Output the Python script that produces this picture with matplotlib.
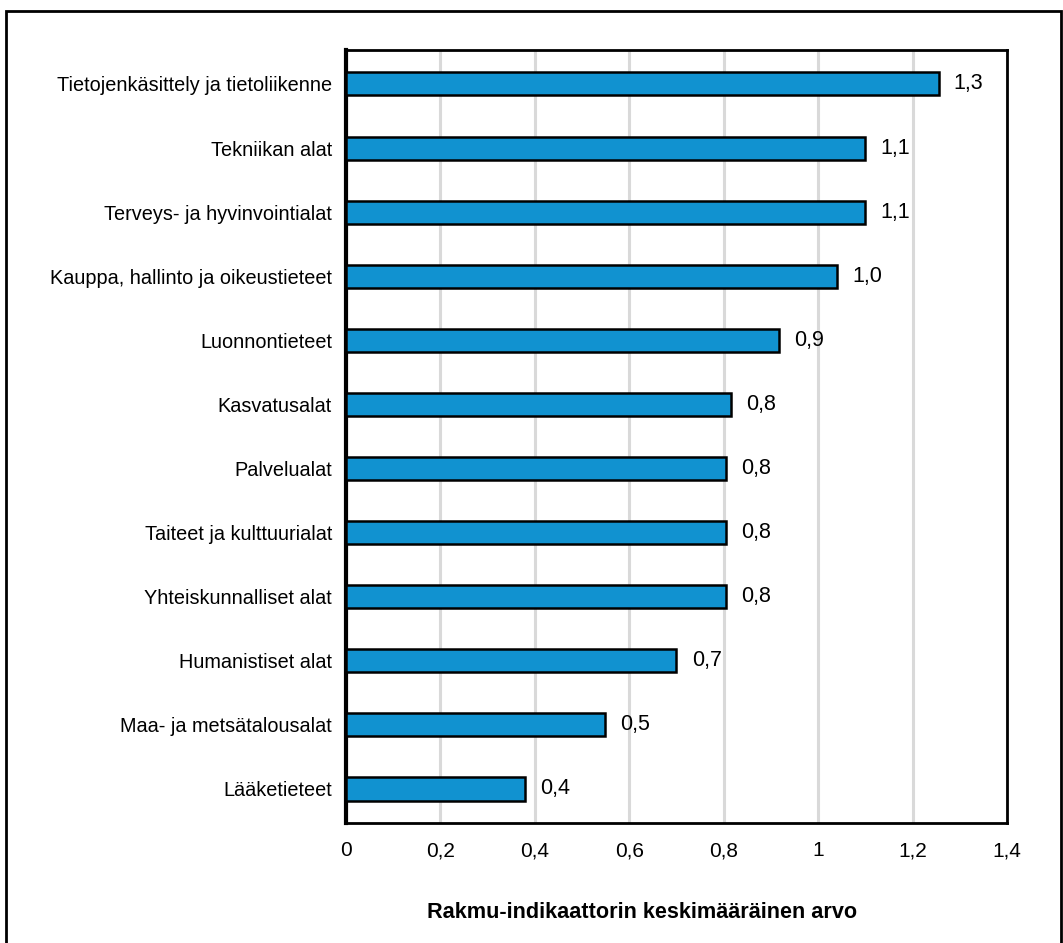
import matplotlib
matplotlib.use('Agg')
import matplotlib.pyplot as plt
from matplotlib import font_manager
from matplotlib.patches import Rectangle

# alat ja Rakmu-indikaattorin keskiarvot
categories = [
    "Tietojenkäsittely ja tietoliikenne",
    "Tekniikan alat",
    "Terveys- ja hyvinvointialat",
    "Kauppa, hallinto ja oikeustieteet",
    "Luonnontieteet",
    "Kasvatusalat",
    "Palvelualat",
    "Taiteet ja kulttuurialat",
    "Yhteiskunnalliset alat",
    "Humanistiset alat",
    "Maa- ja metsätalousalat",
    "Lääketieteet",
]
values = [1.255, 1.10, 1.10, 1.04, 0.917, 0.816, 0.805, 0.805, 0.805, 0.70, 0.548, 0.379]
xticks = [0, 0.2, 0.4, 0.6, 0.8, 1.0, 1.2, 1.4]
xtick_labels = ["0", "0,2", "0,4", "0,6", "0,8", "1", "1,2", "1,4"]

names = {f.name for f in font_manager.fontManager.ttflist}
family = "Liberation Sans Narrow" if "Liberation Sans Narrow" in names else "Liberation Sans"
plt.rcParams['font.family'] = [family, 'DejaVu Sans']

fig = plt.figure(figsize=(10.63, 9.43), dpi=100)
ax = fig.add_axes([0.3255, 0.1273, 0.6218, 0.8197])

pos = list(range(len(categories)))
ax.barh(pos, values, height=0.36, color='#1192d0', edgecolor='black', linewidth=1.8, zorder=3)

for y, v in zip(pos, values):
    ax.annotate(f"{v:.1f}".replace('.', ','), (v, y), xytext=(11, 0), textcoords='offset points',
                va='center', ha='left', fontsize=15.5)

ax.set_xlim(0, 1.4)
ax.set_ylim(len(categories) - 0.47, -0.53)
ax.set_xticks(xticks)
ax.set_xticklabels(xtick_labels, fontsize=15)
ax.set_yticks(pos)
ax.set_yticklabels(categories, fontsize=14.3)
ax.tick_params(axis='both', length=0)
ax.tick_params(axis='x', pad=13)
ax.tick_params(axis='y', pad=10)
ax.grid(True, axis='x', color='#d9d9d9', linewidth=2.2, zorder=0)
ax.set_axisbelow(True)

for side in ['top', 'right', 'bottom']:
    ax.spines[side].set_linewidth(2.0)
ax.spines['left'].set_linewidth(3.0)

fig.text(642 / 1063, 1 - 912 / 943, "Rakmu-indikaattorin keskimääräinen arvo",
         ha='center', va='center', fontsize=15.6, fontweight='bold',
         family=['Liberation Sans', 'DejaVu Sans'])

# kehys koko kuvan ympärille
fig.patches.append(Rectangle((6 / 1063, -0.01), 1055 / 1063, 1.01 - 11 / 943,
                             transform=fig.transFigure, fill=False,
                             edgecolor='black', linewidth=2.0))

fig.savefig('out.png', dpi=100)
